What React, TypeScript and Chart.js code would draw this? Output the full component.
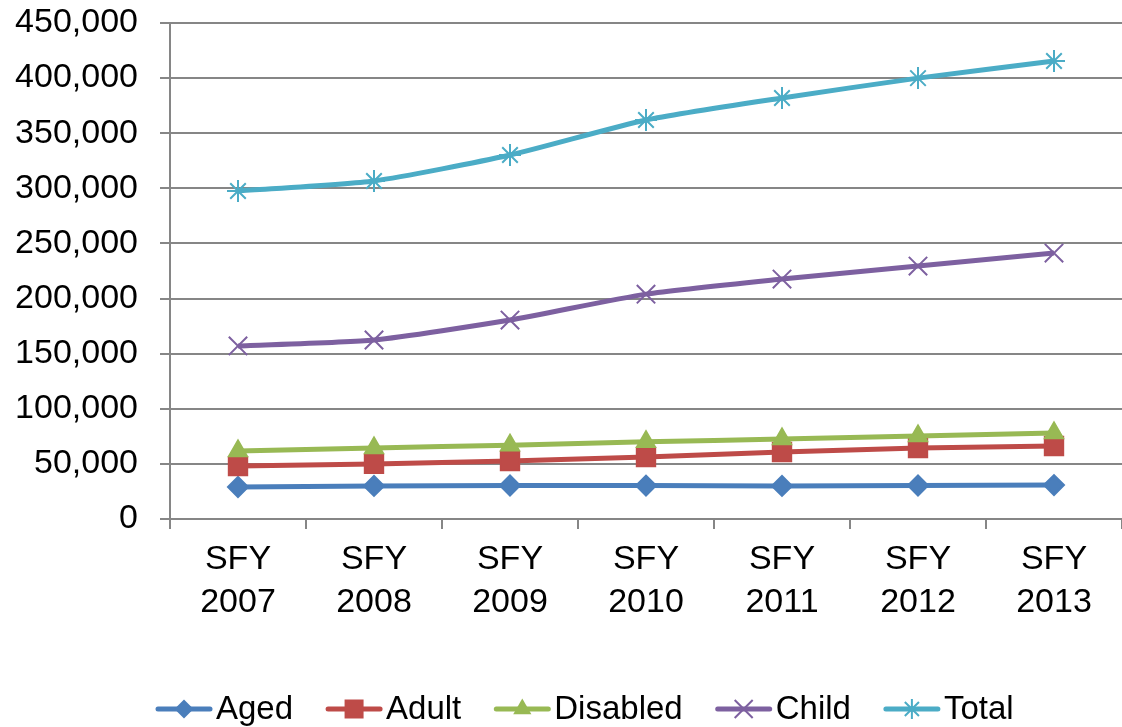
import { useEffect, useRef } from 'react';
import { Chart, registerables } from 'chart.js';

Chart.register(...registerables);

// Fiscal years on the x axis (two-line labels)
const categories: string[][] = [
  ['SFY', '2007'],
  ['SFY', '2008'],
  ['SFY', '2009'],
  ['SFY', '2010'],
  ['SFY', '2011'],
  ['SFY', '2012'],
  ['SFY', '2013'],
];

// Enrollment counts per eligibility group
const aged = [29000, 30000, 30400, 30300, 30000, 30400, 30800];
const adult = [48000, 50000, 52600, 56200, 60800, 64400, 66200];
const disabled = [61700, 64400, 67000, 70000, 72600, 75300, 78000];
const child = [157000, 162400, 180500, 204000, 217700, 229500, 241300];
const total = [297600, 306700, 330200, 362000, 382000, 400000, 415500];

const yTicks = [0, 50000, 100000, 150000, 200000, 250000, 300000, 350000, 400000, 450000];

const seriesNames = ['Aged', 'Adult', 'Disabled', 'Child', 'Total'];
const seriesColors = ['#4A7EBB', '#BE4B48', '#98B954', '#7D60A0', '#4BACC6'];

const FONT = '"Liberation Sans", Arial, sans-serif';
const GRID = '#868686';

type Marker = 'rectRot' | 'rect' | 'triangle' | 'crossRot' | 'star';
const markers: Marker[] = ['rectRot', 'rect', 'triangle', 'crossRot', 'star'];
const markerRadius = [10, 13, 10.5, 13, 11];

// Draws a legend marker centred at (cx, cy)
function drawMarker(g: CanvasRenderingContext2D, marker: Marker, cx: number, cy: number) {
  g.lineWidth = 2;
  g.beginPath();
  if (marker === 'rectRot') {
    const r = 9.5;
    g.moveTo(cx, cy - r);
    g.lineTo(cx + r, cy);
    g.lineTo(cx, cy + r);
    g.lineTo(cx - r, cy);
    g.closePath();
    g.fill();
  } else if (marker === 'rect') {
    const h = 9.5;
    g.rect(cx - h, cy - h, 2 * h, 2 * h);
    g.fill();
  } else if (marker === 'triangle') {
    const r = 10.5;
    g.moveTo(cx, cy - r);
    g.lineTo(cx + r * Math.sin((2 * Math.PI) / 3), cy - r * Math.cos((2 * Math.PI) / 3));
    g.lineTo(cx + r * Math.sin((4 * Math.PI) / 3), cy - r * Math.cos((4 * Math.PI) / 3));
    g.closePath();
    g.fill();
  } else if (marker === 'crossRot') {
    const d = 9;
    g.moveTo(cx - d, cy - d);
    g.lineTo(cx + d, cy + d);
    g.moveTo(cx + d, cy - d);
    g.lineTo(cx - d, cy + d);
    g.stroke();
  } else {
    const r = 10;
    const d = r * Math.SQRT1_2;
    g.moveTo(cx, cy - r);
    g.lineTo(cx, cy + r);
    g.moveTo(cx - d, cy - d);
    g.lineTo(cx + d, cy + d);
    g.moveTo(cx + d, cy - d);
    g.lineTo(cx - d, cy + d);
    g.stroke();
  }
}

// Bottom legend: line-and-marker symbol followed by the series name
const lineLegend = {
  id: 'lineLegend',
  afterDraw(chart: any) {
    const g: CanvasRenderingContext2D = chart.ctx;
    const symbolW = 56;
    const gapAfterSymbol = 4;
    const gapBetween = 33;
    const cy = 709;
    g.save();
    g.font = `33px ${FONT}`;
    g.textBaseline = 'middle';
    g.textAlign = 'left';
    let x = 156;
    seriesNames.forEach((name, i) => {
      const color = seriesColors[i];
      g.strokeStyle = color;
      g.fillStyle = color;
      g.lineCap = 'round';
      g.lineWidth = 5;
      g.beginPath();
      g.moveTo(x + 2, cy);
      g.lineTo(x + symbolW - 2, cy);
      g.stroke();
      g.lineCap = 'butt';
      drawMarker(g, markers[i], x + symbolW / 2, cy);
      x += symbolW + gapAfterSymbol;
      g.fillStyle = '#000';
      g.fillText(name, x, cy + 1);
      x += g.measureText(name).width + gapBetween;
    });
    g.restore();
  },
};

export default function App() {
  const canvasRef = useRef<HTMLCanvasElement | null>(null);

  useEffect(() => {
    document.body.style.margin = '0';
    const canvas = canvasRef.current;
    if (!canvas) return;

    const values = [aged, adult, disabled, child, total];

    const chart = new Chart(canvas, {
      type: 'line',
      data: {
        labels: categories,
        datasets: values.map((data, i) => ({
          label: seriesNames[i],
          data,
          borderColor: seriesColors[i],
          backgroundColor: seriesColors[i],
          borderWidth: 5,
          tension: 0.2,
          pointStyle: markers[i],
          pointRadius: markerRadius[i],
          pointHoverRadius: markerRadius[i],
          pointBorderWidth: 2,
          pointBackgroundColor: seriesColors[i],
          pointBorderColor: seriesColors[i],
          order: 5 - i,
        })),
      },
      options: {
        responsive: false,
        animation: false,
        layout: { autoPadding: false, padding: { top: 23, right: 0, left: 0, bottom: 106 } },
        plugins: {
          tooltip: { enabled: false },
          legend: { display: false },
        },
        scales: {
          x: {
            type: 'category',
            offset: true,
            grid: {
              offset: true,
              drawOnChartArea: false,
              drawTicks: true,
              tickLength: 10,
              color: GRID,
              lineWidth: 2,
            },
            border: { display: true, color: GRID, width: 2 },
            ticks: {
              color: '#000',
              padding: 10,
              maxRotation: 0,
              autoSkip: false,
              font: { family: FONT, size: 34, lineHeight: 1.24 },
            },
            afterFit: (scale: any) => {
              scale.height = 102;
              scale.paddingLeft = 0;
              scale.paddingRight = 0;
            },
          },
          y: {
            min: 0,
            max: 450000,
            afterBuildTicks: (scale: any) => {
              scale.ticks = yTicks.map((v) => ({ value: v }));
            },
            grid: {
              color: GRID,
              lineWidth: 2,
              drawTicks: true,
              tickLength: 10,
            },
            border: { display: true, color: GRID, width: 2 },
            ticks: {
              color: '#000',
              padding: 22,
              font: { family: FONT, size: 34 },
              callback: (v: any) => Number(v).toLocaleString('en-US'),
            },
            afterFit: (scale: any) => {
              scale.width = 170;
              scale.paddingTop = 0;
              scale.paddingBottom = 0;
            },
          },
        },
      },
      plugins: [lineLegend],
    });

    return () => chart.destroy();
  }, []);

  return (
    <div style={{ width: 1122, height: 727 }}>
      <canvas ref={canvasRef} width={1122} height={727} />
    </div>
  );
}
